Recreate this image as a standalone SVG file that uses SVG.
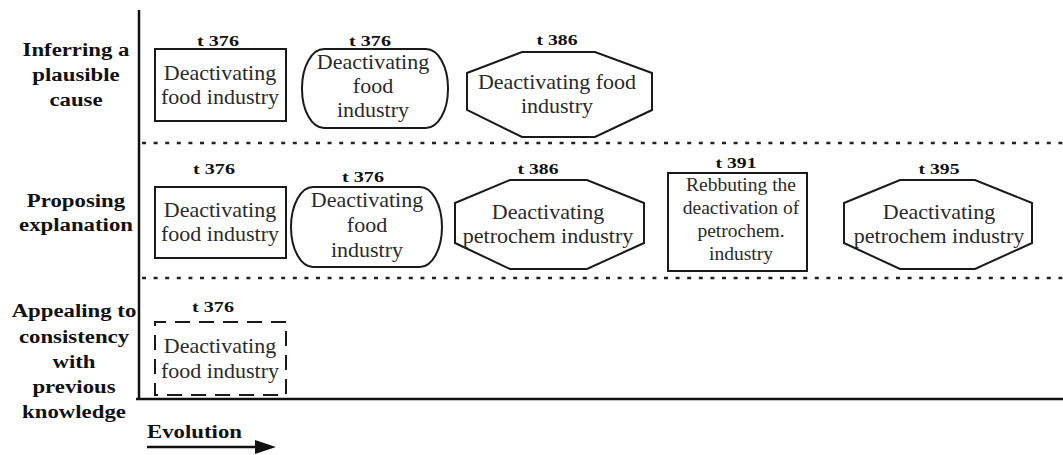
<svg xmlns="http://www.w3.org/2000/svg" width="1063" height="455" viewBox="0 0 1063 455">
  <style>
    .axis { stroke: #111; stroke-width: 2.5; fill: none; }
    .sep { stroke: #222; stroke-width: 2.5; stroke-dasharray: 4 7.6; fill: none; }
    .box { stroke: #1a1a1a; stroke-width: 2; fill: #fff; }
    .dash { stroke: #1a1a1a; stroke-width: 2; fill: #fff; stroke-dasharray: 15 9; stroke-dashoffset: 4; }
    text { font-family: 'Liberation Serif', 'DejaVu Serif', 'Times New Roman', serif; }
    .body { font-size: 22px; fill: #2a2a2a; text-anchor: middle; }
    .small { font-size: 19.5px; }
    .tag { font-size: 14px; font-weight: bold; fill: #111; text-anchor: middle; }
    .row { font-size: 19px; font-weight: bold; fill: #111; text-anchor: middle; }
  </style>

  <!-- axes and row separators -->
  <g id="frame">
    <line class="axis" x1="139" y1="10" x2="139" y2="400"/>
    <line class="axis" x1="136" y1="399" x2="1063" y2="399"/>
    <line class="sep" x1="142" y1="143" x2="1063" y2="143"/>
    <line class="sep" x1="142" y1="278" x2="1063" y2="278"/>
  </g>

  <!-- row headings -->
  <g id="row-labels">
    <g transform="translate(76 0) scale(1.2 1)">
      <text class="row" x="0" y="56">Inferring a</text>
      <text class="row" x="0" y="81">plausible</text>
      <text class="row" x="0" y="106">cause</text>
      <text class="row" x="0" y="207">Proposing</text>
      <text class="row" x="0" y="231">explanation</text>
    </g>
    <g transform="translate(74 0) scale(1.2 1)">
      <text class="row" x="0" y="317">Appealing to</text>
      <text class="row" x="0" y="343">consistency</text>
      <text class="row" x="0" y="368">with</text>
      <text class="row" x="0" y="393">previous</text>
      <text class="row" x="0" y="418">knowledge</text>
    </g>
  </g>

  <!-- time direction -->
  <g id="evolution">
    <text class="row" transform="translate(147 438) scale(1.2 1)" x="0" y="0" style="text-anchor:start">Evolution</text>
    <line x1="147" y1="447" x2="258" y2="447" stroke="#111" stroke-width="2.5"/>
    <polygon points="255,440 276,447 255,454" fill="#111"/>
  </g>

  <!-- row 1: inferring a plausible cause -->
  <g id="n-r1-a">
    <text class="tag" x="218" y="46" textLength="42" lengthAdjust="spacingAndGlyphs">t 376</text>
    <rect class="box" x="155" y="49" width="131" height="72"/>
    <text class="body" x="220" y="80">Deactivating</text>
    <text class="body" x="220" y="104">food industry</text>
  </g>
  <g id="n-r1-b">
    <text class="tag" x="370" y="46" textLength="42" lengthAdjust="spacingAndGlyphs">t 376</text>
    <rect class="box" x="302" y="49" width="146" height="79" rx="22" ry="39"/>
    <text class="body" x="373" y="69">Deactivating</text>
    <text class="body" x="373" y="93">food</text>
    <text class="body" x="373" y="117">industry</text>
  </g>
  <g id="n-r1-c">
    <text class="tag" x="557" y="45" textLength="41" lengthAdjust="spacingAndGlyphs">t 386</text>
    <polygon class="box" points="522,52 595,52 652,73 652,110 595,137 522,137 467,110 467,73"/>
    <text class="body" x="557" y="89">Deactivating food</text>
    <text class="body" x="557" y="113">industry</text>
  </g>

  <!-- row 2: proposing explanation -->
  <g id="n-r2-a">
    <text class="tag" x="214" y="174" textLength="42" lengthAdjust="spacingAndGlyphs">t 376</text>
    <rect class="box" x="155" y="187" width="131" height="71"/>
    <text class="body" x="220" y="217">Deactivating</text>
    <text class="body" x="220" y="241">food industry</text>
  </g>
  <g id="n-r2-b">
    <text class="tag" x="363" y="182" textLength="42" lengthAdjust="spacingAndGlyphs">t 376</text>
    <rect class="box" x="291" y="187" width="151" height="80" rx="22" ry="40"/>
    <text class="body" x="367" y="207">Deactivating</text>
    <text class="body" x="367" y="232">food</text>
    <text class="body" x="367" y="257">industry</text>
  </g>
  <g id="n-r2-c">
    <text class="tag" x="538" y="174" textLength="41" lengthAdjust="spacingAndGlyphs">t 386</text>
    <polygon class="box" points="510,180 587,180 644,203 644,243 587,269 510,269 455,243 455,203"/>
    <text class="body" x="548" y="219">Deactivating</text>
    <text class="body" x="548" y="243">petrochem industry</text>
  </g>
  <g id="n-r2-d">
    <text class="tag" x="736" y="168" textLength="41" lengthAdjust="spacingAndGlyphs">t 391</text>
    <rect class="box" x="668" y="173" width="139" height="98"/>
    <text class="body small" x="741" y="191">Rebbuting the</text>
    <text class="body small" x="741" y="214">deactivation of</text>
    <text class="body small" x="741" y="237">petrochem.</text>
    <text class="body small" x="741" y="260">industry</text>
  </g>
  <g id="n-r2-e">
    <text class="tag" x="939" y="174" textLength="41" lengthAdjust="spacingAndGlyphs">t 395</text>
    <polygon class="box" points="900,180 975,180 1032,203 1032,243 975,269 900,269 844,243 844,203"/>
    <text class="body" x="939" y="219">Deactivating</text>
    <text class="body" x="939" y="243">petrochem industry</text>
  </g>

  <!-- row 3: appealing to consistency with previous knowledge -->
  <g id="n-r3-a">
    <text class="tag" x="213" y="312" textLength="42" lengthAdjust="spacingAndGlyphs">t 376</text>
    <rect class="dash" x="155" y="322" width="131" height="73"/>
    <text class="body" x="220" y="353">Deactivating</text>
    <text class="body" x="220" y="378">food industry</text>
  </g>

  <!-- no connectors between nodes -->
  <g id="connectors"/>
</svg>
